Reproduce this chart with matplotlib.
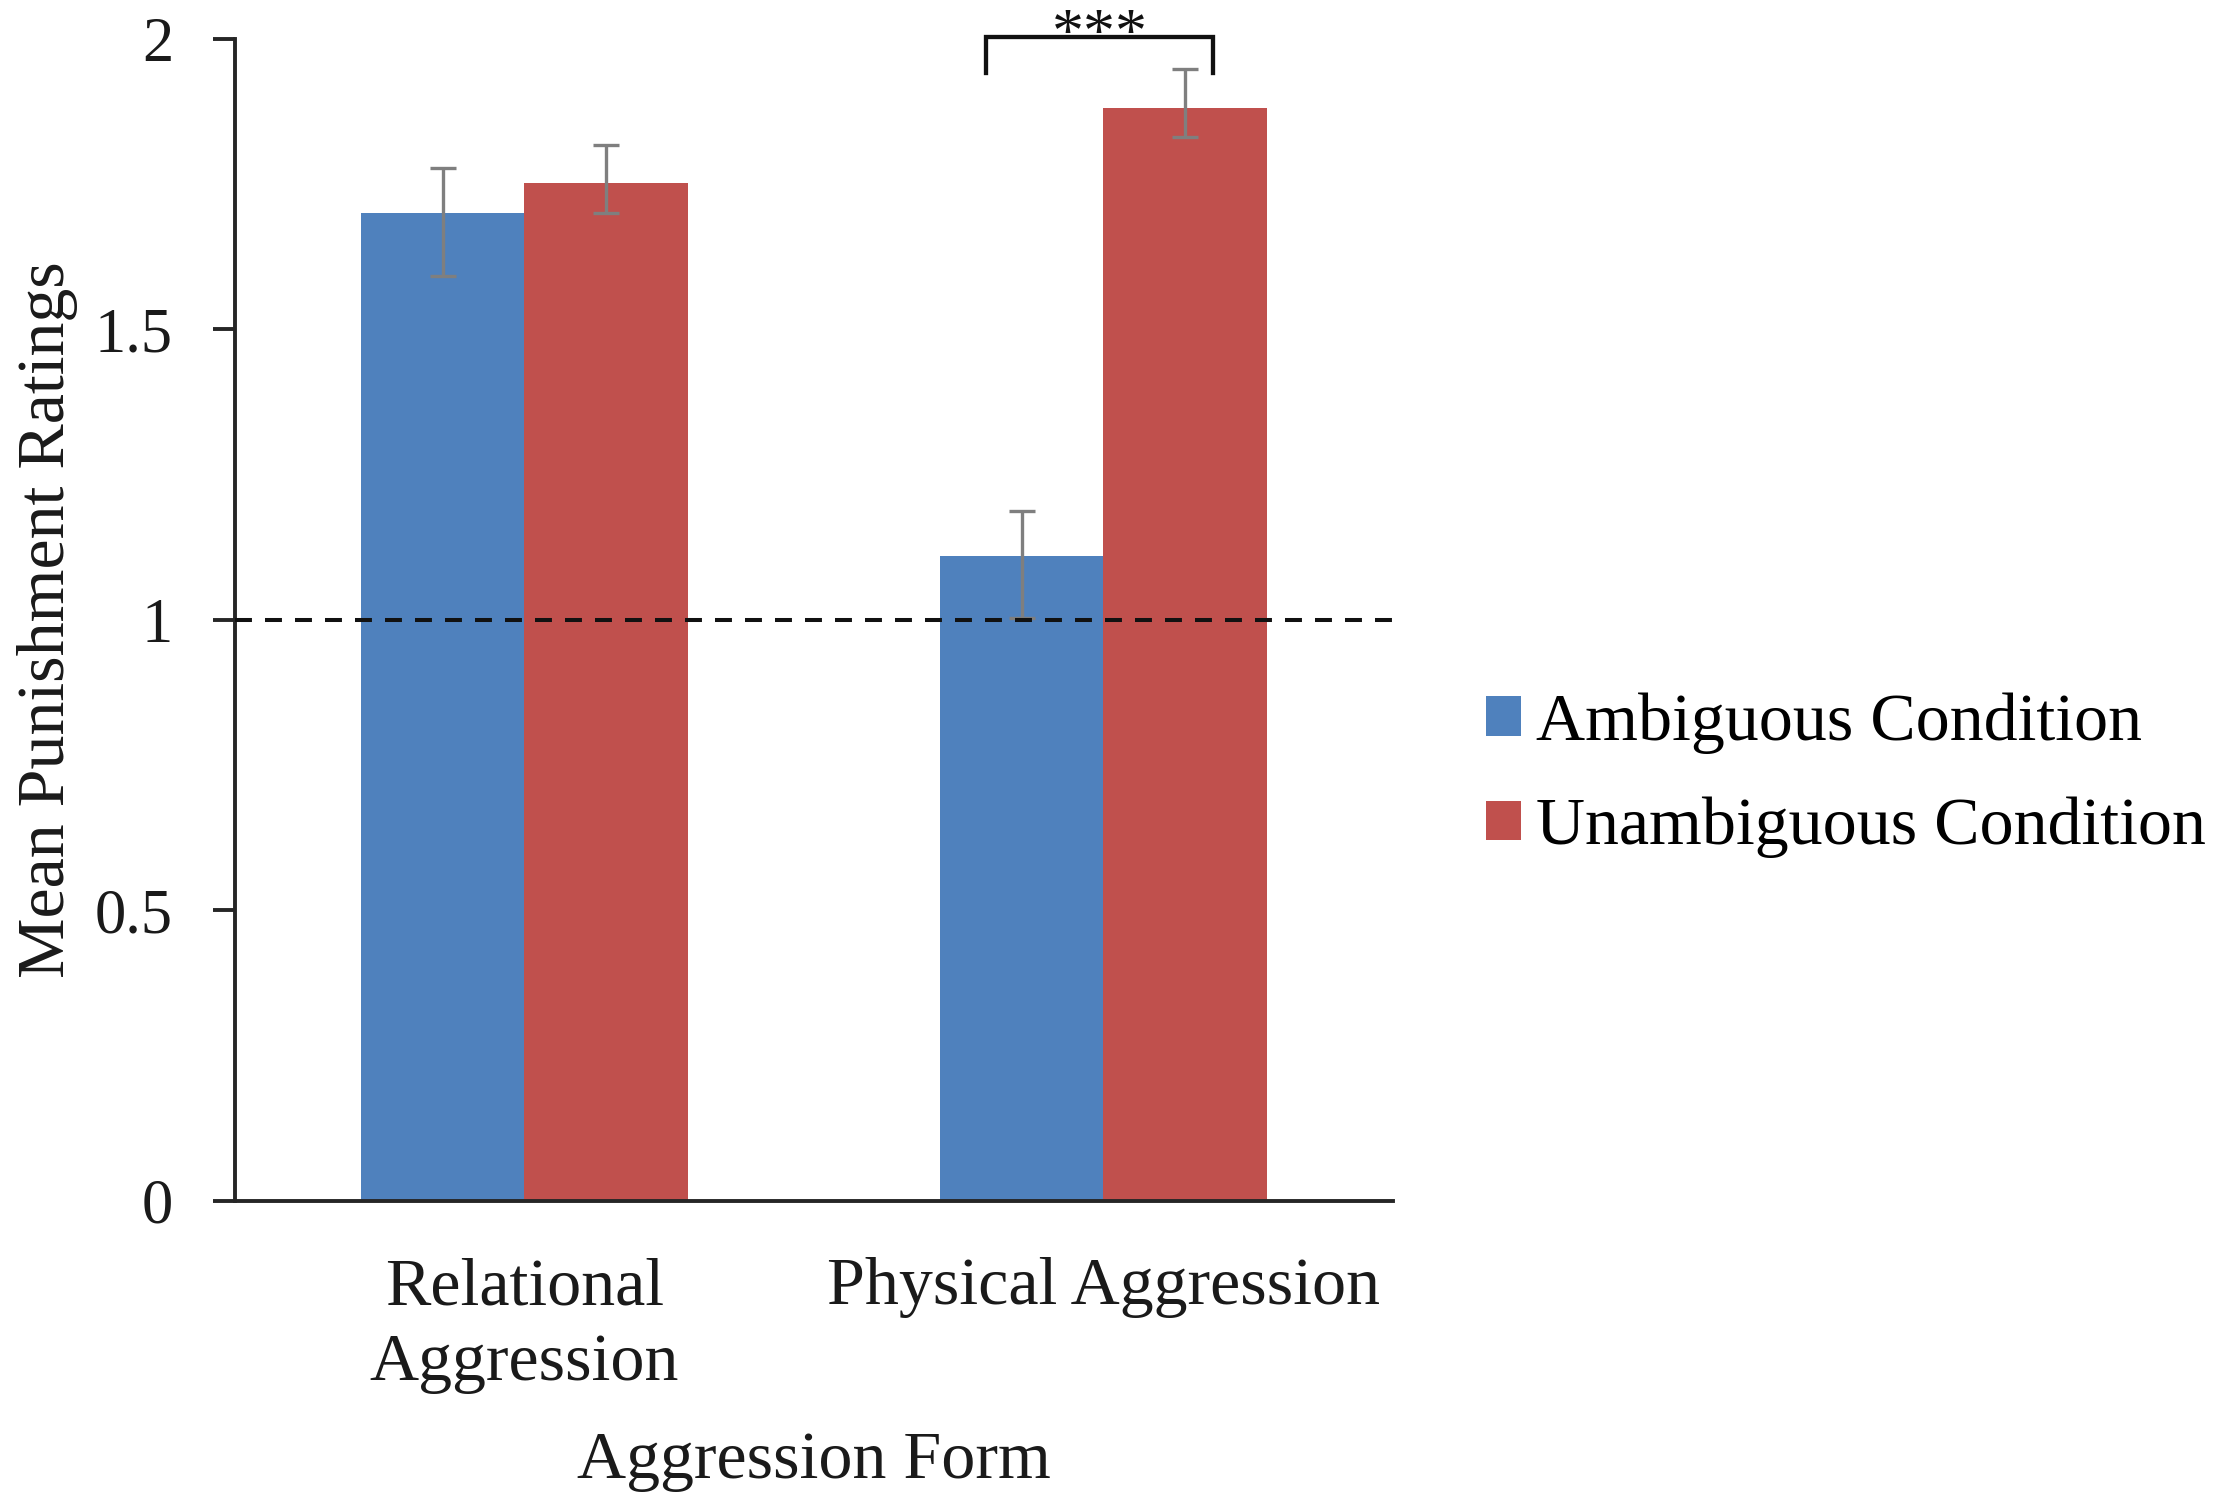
import numpy as np
import matplotlib
matplotlib.use("Agg")
import matplotlib.pyplot as plt

plt.rcParams['font.family'] = ['Liberation Serif', 'DejaVu Serif']
plt.rcParams['lines.scale_dashes'] = False

# data
categories = ["Relational\nAggression", "Physical Aggression"]
series_names = ["Ambiguous Condition", "Unambiguous Condition"]
ambiguous = [1.70, 1.11]
ambiguous_err_low = [0.108, 0.107]
ambiguous_err_high = [0.078, 0.077]
unambiguous = [1.752, 1.881]
unambiguous_err_low = [0.051, 0.049]
unambiguous_err_high = [0.065, 0.067]
y_ticks = [0, 0.5, 1, 1.5, 2]
y_tick_labels = ["0", "0.5", "1", "1.5", "2"]
reference_line = 1.0
sig_label = "***"

blue = "#4F81BD"
red = "#C0504D"
err_color = "#7F7F7F"
axis_color = "#262626"

fig = plt.figure(figsize=(22.17, 15.02), dpi=100)
ax = fig.add_axes([0.106, 0.2007, 0.5223, 0.7733])

x = np.arange(len(categories))
w = 0.283
err_kw = dict(ecolor=err_color, elinewidth=2.4, capsize=9.7, capthick=2.4)

ax.bar(x - w / 2, ambiguous, w, color=blue, label=series_names[0],
       yerr=[ambiguous_err_low, ambiguous_err_high], error_kw=err_kw, zorder=2)
ax.bar(x + w / 2, unambiguous, w, color=red, label=series_names[1],
       yerr=[unambiguous_err_low, unambiguous_err_high], error_kw=err_kw, zorder=2)

# dashed reference line at 1
ax.axhline(reference_line, color="#111111", lw=2.9, ls=(0, (12.2, 9.4)), zorder=3)

# significance bracket over the physical aggression pair
bx0, bx1 = x[1] - 0.203, x[1] + 0.190
by_low, by_top = 1.941, 2.003
ax.plot([bx0, bx0, bx1, bx1], [by_low, by_top, by_top, by_low],
        color="#111111", lw=3.1, clip_on=False, solid_joinstyle='miter', zorder=4)
ax.text((bx0 + bx1) / 2, 1.978, sig_label, ha="center", va="baseline",
        fontsize=46, color="#111111", clip_on=False)

ax.set_xlim(-0.5, 1.5)
ax.set_ylim(0, 2)
ax.set_yticks(y_ticks)
ax.set_yticklabels(y_tick_labels)
ax.set_xticks(x)
ax.set_xticklabels(categories, linespacing=1.3)

for side in ["top", "right"]:
    ax.spines[side].set_visible(False)
for side in ["left", "bottom"]:
    ax.spines[side].set_color(axis_color)
    ax.spines[side].set_linewidth(2.8)

ax.tick_params(axis="y", length=15.8, width=2.8, color=axis_color, pad=28.8,
               labelsize=45, labelcolor="#1a1a1a")
ax.tick_params(axis="x", length=0, pad=41, labelsize=49, labelcolor="#1a1a1a")

ax.set_ylabel("Mean Punishment Ratings", fontsize=49, color="#1a1a1a")
ax.yaxis.set_label_coords(-0.1356, 0.5)
ax.set_xlabel("Aggression Form", fontsize=49, color="#1a1a1a")
ax.xaxis.set_label_coords(0.5, -0.198)

ax.legend(loc="center left", bbox_to_anchor=(0.6703, 0.4837),
          bbox_transform=fig.transFigure, frameon=False, fontsize=49,
          handlelength=0.51, handleheight=0.51, handletextpad=0.23,
          labelspacing=0.63, borderpad=0, borderaxespad=0)

fig.savefig("out.png", dpi=100)
